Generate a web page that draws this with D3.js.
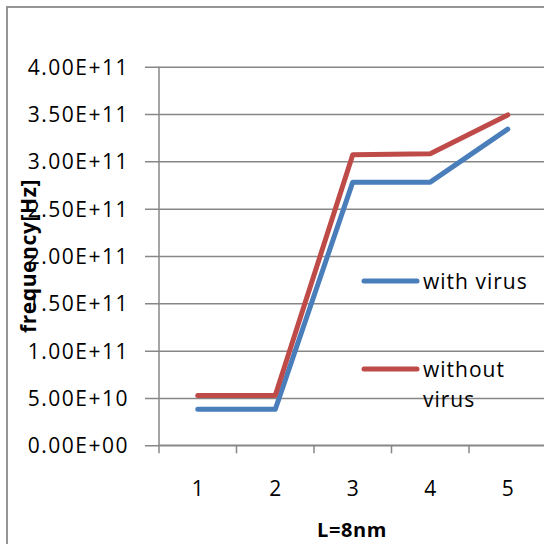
<!DOCTYPE html>
<html>
<head>
<meta charset="utf-8">
<script src="https://cdn.jsdelivr.net/npm/d3@7"></script>
<style>
  body { margin: 0; background: #fff; }
  svg text { font-family: "Open Sans", "Liberation Sans", sans-serif; fill: #000; }
  .axis path, .axis line { stroke: #878787; stroke-width: 1.5; }
</style>
</head>
<body>
<div id="chart"></div>
<script>
// chart values
const categories = ["1", "2", "3", "4", "5"];
const withVirus = [3.8e10, 3.8e10, 2.78e11, 2.78e11, 3.34e11];
const withoutVirus = [5.25e10, 5.25e10, 3.07e11, 3.08e11, 3.49e11];
const seriesNames = ["with virus", "without virus"];
const yTicks = [0, 0.5e11, 1e11, 1.5e11, 2e11, 2.5e11, 3e11, 3.5e11, 4e11];

const colors = ["#4A7EBB", "#BE4B48"];

let width = 544, height = 544;
let margin = {top: 66.7, right: -2.5, bottom: 98.7, left: 159};

let svg = d3.select("#chart").append("svg")
    .attr("width", width)
    .attr("height", height);

// outer chart border (right/bottom edges cut off like the original)
svg.append("rect")
    .attr("x", 7).attr("y", 7)
    .attr("width", 600).attr("height", 600)
    .attr("fill", "none")
    .attr("stroke", "#8a8a8a")
    .attr("stroke-width", 1.8);

let x = d3.scaleBand()
    .domain(categories)
    .range([margin.left, width - margin.right]);

let y = d3.scaleLinear()
    .domain([0, 4e11])
    .range([height - margin.bottom, margin.top]);

function fmt(v) {
    let s = v.toExponential(2).toUpperCase();   // 4.00E+11
    return s.replace(/E([+-])(\d)$/, "E$10$2");
}

// gridlines + y axis
let yAxis = d3.axisLeft(y)
    .tickValues(yTicks)
    .tickSize(0)
    .tickFormat(fmt);

let gy = svg.append("g")
    .attr("class", "axis")
    .attr("transform", "translate(" + margin.left + ",0)")
    .call(yAxis);
gy.select(".domain").remove();
gy.selectAll(".tick line").attr("x1", -14).attr("x2", width - margin.right - margin.left);
gy.selectAll(".tick text")
    .attr("x", -30)
    .attr("dy", "0.36em")
    .style("font-size", "21px")
    .style("letter-spacing", "1.5px");

svg.append("line")
    .attr("x1", margin.left).attr("x2", margin.left)
    .attr("y1", margin.top).attr("y2", height - margin.bottom)
    .attr("stroke", "#878787").attr("stroke-width", 1.5);

// x axis: ticks on band boundaries, labels at band centres
let gx = svg.append("g")
    .attr("class", "axis")
    .attr("transform", "translate(0," + y(0) + ")");
gx.append("line")
    .attr("x1", margin.left).attr("x2", width + 5)
    .attr("stroke", "#878787").attr("stroke-width", 1.5);
gx.selectAll(".xt")
    .data(categories)
    .join("line")
    .attr("class", "xt")
    .attr("x1", d => x(d)).attr("x2", d => x(d))
    .attr("y1", 0).attr("y2", 8)
    .attr("stroke", "#878787").attr("stroke-width", 1.5);
gx.selectAll("text")
    .data(categories)
    .join("text")
    .attr("x", d => x(d) + x.bandwidth() / 2)
    .attr("y", 51)
    .attr("text-anchor", "middle")
    .style("font-size", "21px")
    .text(d => d);

// axis titles
svg.append("text")
    .attr("x", 352).attr("y", 537)
    .attr("text-anchor", "middle")
    .style("font-size", "20px")
    .style("font-weight", "bold")
    .style("letter-spacing", "0.6px")
    .text("L=8nm");

svg.append("text")
    .attr("transform", "translate(36,256) rotate(-90)")
    .attr("text-anchor", "middle")
    .style("font-size", "21px")
    .style("font-weight", "bold")
    .style("letter-spacing", "0.6px")
    .text("frequency[Hz]");

// lines
let line = d3.line()
    .x((d, i) => x(categories[i]) + x.bandwidth() / 2)
    .y(d => y(d));

[withVirus, withoutVirus].forEach((vals, i) => {
    svg.append("path")
        .datum(vals)
        .attr("d", line)
        .attr("fill", "none")
        .attr("stroke", colors[i])
        .attr("stroke-width", 5)
        .attr("stroke-linecap", "round")
        .attr("stroke-linejoin", "round");
});

// legend
let legend = [
    {name: "with virus", lines: ["with virus"], y: 281},
    {name: "without virus", lines: ["without", "virus"], y: 369}
];
legend.forEach((d, i) => {
    svg.append("line")
        .attr("x1", 364).attr("x2", 417)
        .attr("y1", d.y).attr("y2", d.y)
        .attr("stroke", colors[i])
        .attr("stroke-width", 5)
        .attr("stroke-linecap", "round");
    d.lines.forEach((t, j) => {
        svg.append("text")
            .attr("x", 423)
            .attr("y", d.y + 8 + j * 30)
            .style("font-size", "21px")
            .style("letter-spacing", "1px")
            .text(t);
    });
});
</script>
</body>
</html>
